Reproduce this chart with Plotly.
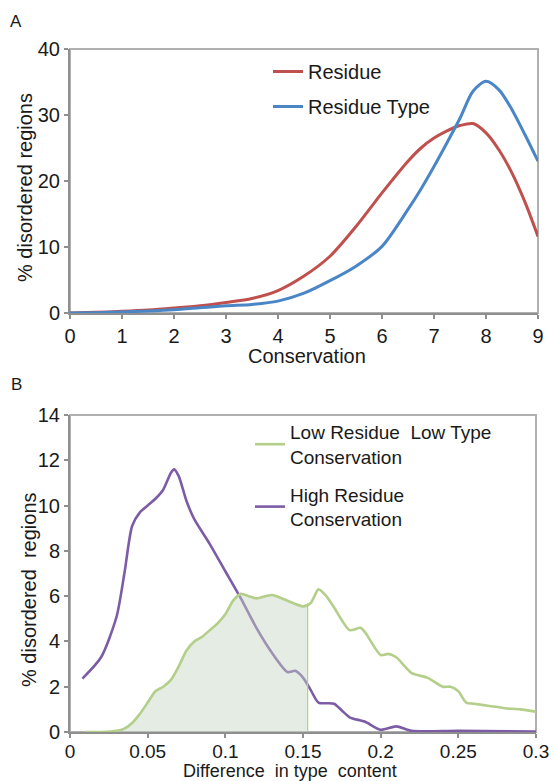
import numpy as np
import plotly.graph_objects as go

# ---------------- Panel A data ----------------
cons = [0, 0.5, 1, 1.5, 2, 2.5, 3, 3.5, 4, 4.5, 5, 5.5, 6, 6.5, 6.75, 7, 7.25, 7.5, 7.75, 8, 8.25, 8.5, 8.75, 9]
residue = [0, 0.1, 0.25, 0.45, 0.75, 1.1, 1.6, 2.2, 3.4, 5.6, 8.6, 13.1, 18.2, 23.0, 25.0, 26.5, 27.6, 28.4, 28.7, 27.3, 24.7, 21.2, 16.8, 11.6]
residue_type = [0, 0.05, 0.15, 0.3, 0.5, 0.8, 1.1, 1.3, 1.8, 3.0, 4.9, 7.1, 10.1, 15.7, 18.8, 22.2, 25.8, 29.5, 33.6, 35.1, 33.8, 30.8, 27.0, 23.0]
a_xticks = [0, 1, 2, 3, 4, 5, 6, 7, 8, 9]
a_yticks = [0, 10, 20, 30, 40]

# ---------------- Panel B data ----------------
high_x = [0.008, 0.02, 0.03, 0.035, 0.04, 0.045, 0.05, 0.055, 0.06, 0.065, 0.067, 0.07, 0.075, 0.08, 0.09,
          0.1, 0.11, 0.12, 0.13, 0.14, 0.145, 0.15, 0.155, 0.16, 0.17, 0.175, 0.18, 0.19, 0.2, 0.21, 0.22,
          0.25, 0.3]
high_y = [2.36, 3.3, 5.1, 7.0, 9.1, 9.7, 10.0, 10.3, 10.7, 11.45, 11.6, 11.3, 10.2, 9.4, 8.3,
          7.1, 5.9, 4.6, 3.5, 2.65, 2.7, 2.4, 1.85, 1.3, 1.25, 0.95, 0.65, 0.45, 0.1, 0.25, 0.05,
          0.05, 0.02]

low_x = [0.01, 0.02, 0.03, 0.035, 0.04, 0.045, 0.05, 0.055, 0.06, 0.065, 0.07, 0.075, 0.08, 0.085, 0.09,
         0.095, 0.1, 0.105, 0.11, 0.115, 0.12, 0.13, 0.14, 0.15, 0.155, 0.16, 0.165, 0.17, 0.18, 0.187,
         0.19, 0.2, 0.205, 0.21, 0.22, 0.23, 0.24, 0.245, 0.25, 0.255, 0.26, 0.27, 0.28, 0.29, 0.3]
low_y = [0, 0, 0.05, 0.15, 0.4, 0.8, 1.3, 1.8, 2.0, 2.3, 2.9, 3.6, 4.0, 4.2, 4.5,
         4.8, 5.2, 5.8, 6.1, 6.0, 5.9, 6.05, 5.8, 5.55, 5.7, 6.3, 6.0, 5.5, 4.5, 4.6,
         4.4, 3.4, 3.45, 3.3, 2.6, 2.4, 2.0, 2.0, 1.8, 1.3, 1.25, 1.15, 1.05, 1.0, 0.9]
shade_cutoff = 0.153
b_xticks = [0, 0.05, 0.1, 0.15, 0.2, 0.25, 0.3]
b_xticklabels = ["0", "0.05", "0.1", "0.15", "0.2", "0.25", "0.3"]
b_yticks = [0, 2, 4, 6, 8, 10, 12, 14]

RED = "#c0504d"
BLUE = "#4a86c6"
GREEN = "#b3cf8a"
PURPLE = "#7d5ca6"
FONT = "Liberation Sans, Arial, sans-serif"
TXT = "#1a1a1a"

W, H = 555, 781
def px_x(p):
    return p / W
def px_y(p):
    return 1 - p / H

fig = go.Figure()

# Panel A
fig.add_trace(go.Scatter(x=cons, y=residue, mode="lines", name="Residue",
                         line=dict(color=RED, width=3, shape="spline", smoothing=0.8),
                         xaxis="x", yaxis="y", legend="legend", legendgroup="a1"))
fig.add_trace(go.Scatter(x=cons, y=residue_type, mode="lines", name="Residue Type",
                         line=dict(color=BLUE, width=3, shape="spline", smoothing=0.8),
                         xaxis="x", yaxis="y", legend="legend", legendgroup="a2"))

# Panel B
fig.add_trace(go.Scatter(x=high_x, y=high_y, mode="lines", name="High Residue<br>Conservation",
                         line=dict(color=PURPLE, width=2.6, shape="spline", smoothing=0.7),
                         xaxis="x2", yaxis="y2", legend="legend2", legendgroup="b2", legendrank=2))

lx = np.array(low_x)
ly = np.array(low_y)
mask = lx < shade_cutoff
cut_y = float(np.interp(shade_cutoff, lx, ly))
shade_x = list(lx[mask]) + [shade_cutoff, shade_cutoff]
shade_y = list(ly[mask]) + [cut_y, 0]
fig.add_trace(go.Scatter(x=shade_x, y=shade_y, mode="lines", fill="tozeroy",
                         fillcolor="rgba(195,213,193,0.45)",
                         line=dict(color=GREEN, width=1.2), showlegend=False,
                         xaxis="x2", yaxis="y2", hoverinfo="skip"))
fig.add_trace(go.Scatter(x=low_x, y=low_y, mode="lines", name="Low Residue  Low Type<br>Conservation",
                         line=dict(color=GREEN, width=2.6, shape="spline", smoothing=0.7),
                         xaxis="x2", yaxis="y2", legend="legend2", legendgroup="b1", legendrank=1))

A_dom_x = [px_x(70), px_x(538)]
A_dom_y = [px_y(313), px_y(49)]
B_dom_x = [px_x(70), px_x(536)]
B_dom_y = [px_y(732), px_y(415)]

axis_common = dict(showgrid=False, zeroline=False, showline=True, linecolor="#8f8f8f", linewidth=2,
                   ticks="outside", ticklen=4, tickcolor="#8f8f8f", tickwidth=1.5, automargin=False)
tf20 = dict(family=FONT, size=20, color=TXT)
tf19 = dict(family=FONT, size=19, color=TXT)

fig.update_layout(
    width=W, height=H, margin=dict(l=0, r=0, t=0, b=0, autoexpand=False),
    paper_bgcolor="white", plot_bgcolor="white",
    font=dict(family=FONT, color=TXT),
    xaxis=dict(domain=A_dom_x, range=[0, 9], tickvals=a_xticks, anchor="y", tickfont=tf20, **axis_common),
    yaxis=dict(domain=A_dom_y, range=[0, 40], tickvals=a_yticks, anchor="x", tickfont=tf20, **axis_common),
    xaxis2=dict(domain=B_dom_x, range=[0, 0.3], tickvals=b_xticks, ticktext=b_xticklabels, anchor="y2",
                tickfont=tf19, ticklabelstandoff=-3, **axis_common),
    yaxis2=dict(domain=B_dom_y, range=[0, 14], tickvals=b_yticks, anchor="x2", tickfont=tf20, **axis_common),
    legend=dict(x=px_x(268), y=px_y(52), xanchor="left", yanchor="top", bgcolor="rgba(0,0,0,0)",
                font=dict(family=FONT, size=20, color=TXT), traceorder="grouped", tracegroupgap=6),
    legend2=dict(x=px_x(250), y=px_y(413), xanchor="left", yanchor="top", bgcolor="rgba(0,0,0,0)",
                 font=dict(family=FONT, size=19, color=TXT), traceorder="grouped", tracegroupgap=10),
    showlegend=True,
)

# light frame on top/right
for xr, yr in (("x domain", "y domain"), ("x2 domain", "y2 domain")):
    fig.add_shape(type="rect", xref=xr, yref=yr, x0=0, x1=1, y0=0, y1=1,
                  line=dict(color="#b0b0b0", width=2), layer="below")

def label(text, x, y, size, angle=0):
    fig.add_annotation(text=text, x=px_x(x), y=px_y(y), xref="paper", yref="paper", showarrow=False,
                       xanchor="center", yanchor="middle", textangle=angle,
                       font=dict(family=FONT, size=size, color=TXT))

label("A", 16, 22, 17)
label("B", 16, 384, 17)
label("Conservation", 307, 356, 20)
label("Difference  in type  content", 290, 771, 18)
label("% disordered regions", 25, 188, 20, -90)
label("% disordered  regions", 29, 590, 20, -90)

fig.write_html("out.html")
